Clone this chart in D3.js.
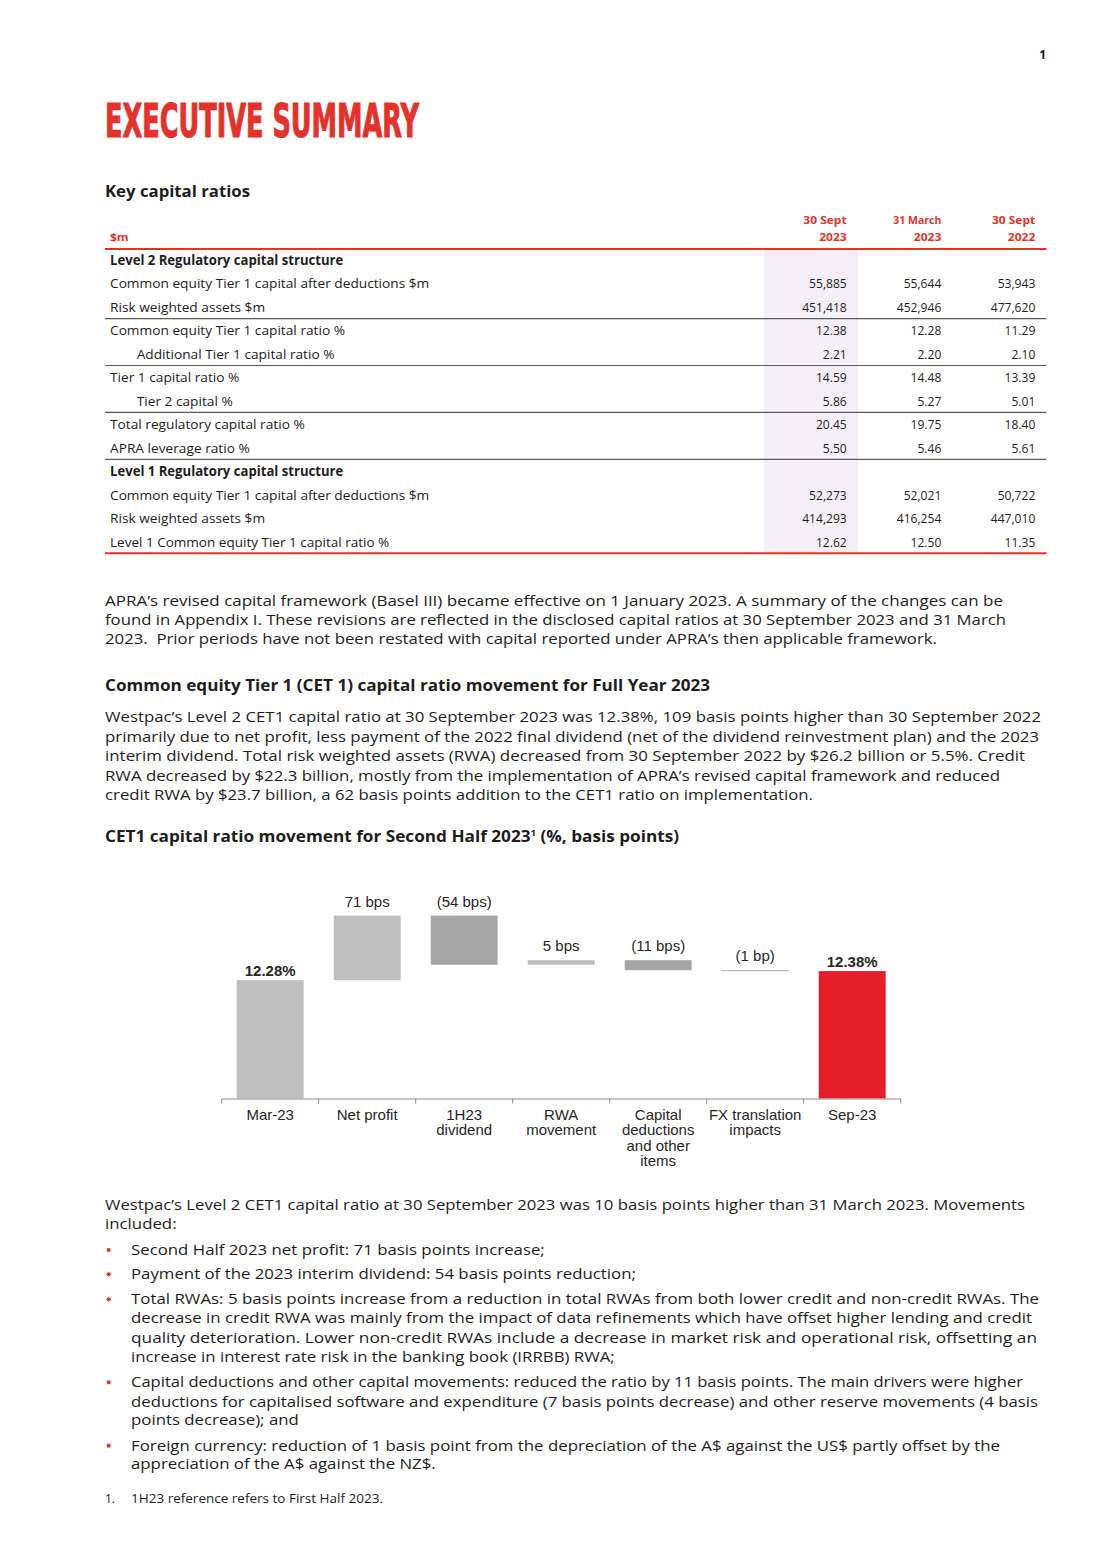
<!DOCTYPE html>
<html><head><meta charset="utf-8">
<script src="https://cdn.jsdelivr.net/npm/d3@7"></script>
<style>html,body{margin:0;padding:0;background:#fff}svg{display:block}</style>
</head><body>
<svg id="page" width="1099" height="1555"></svg>
<script>
// ---------------- DATA ----------------
const categories = ["Mar-23","Net profit","1H23 dividend","RWA movement","Capital deductions and other items","FX translation impacts","Sep-23"];
const categoryLines = [["Mar-23"],["Net profit"],["1H23","dividend"],["RWA","movement"],["Capital","deductions","and other","items"],["FX translation","impacts"],["Sep-23"]];
const movementValues = [12.28, 0.71, -0.54, 0.05, -0.11, -0.01, 12.38];
const barKinds = ["total","delta","delta","delta","delta","delta","total"];
const valueLabels = ["12.28%","71 bps","(54 bps)","5 bps","(11 bps)","(1 bp)","12.38%"];

const tableColumnsTop = ["30 Sept","31 March","30 Sept"];
const tableColumnsBottom = ["2023","2023","2022"];
const tableRowLabels = [
  "Level 2 Regulatory capital structure",
  "Common equity Tier 1 capital after deductions $m",
  "Risk weighted assets $m",
  "Common equity Tier 1 capital ratio %",
  "Additional Tier 1 capital ratio %",
  "Tier 1 capital ratio %",
  "Tier 2 capital %",
  "Total regulatory capital ratio %",
  "APRA leverage ratio %",
  "Level 1 Regulatory capital structure",
  "Common equity Tier 1 capital after deductions $m",
  "Risk weighted assets $m",
  "Level 1 Common equity Tier 1 capital ratio %"
];
const tableSep2023 = [null,"55,885","451,418","12.38","2.21","14.59","5.86","20.45","5.50",null,"52,273","414,293","12.62"];
const tableMar2023 = [null,"55,644","452,946","12.28","2.20","14.48","5.27","19.75","5.46",null,"52,021","416,254","12.50"];
const tableSep2022 = [null,"53,943","477,620","11.29","2.10","13.39","5.01","18.40","5.61",null,"50,722","447,010","11.35"];
const sectionRows = [0, 9];
const indentRows = [4, 6];
const ruleAfterRows = [2, 4, 6, 8];

// ---------------- SETUP ----------------
const svg = d3.select("#page");
svg.append("rect").attr("width",1099).attr("height",1555).attr("fill","#fff");
const BODY = "'Open Sans','Noto Sans',sans-serif";
const ARIAL = "'Liberation Sans',Arial,sans-serif";
const RED = "#e4322b";
const INK = "#1d1d1b";

function addText(parent, x, y, str, o = {}) {
  const t = parent.append("text").attr("x", x).attr("y", y)
    .attr("font-family", o.family || BODY)
    .attr("font-size", o.size || 15)
    .attr("font-weight", o.weight || 400)
    .attr("fill", o.fill || INK)
    .style("white-space", "pre")
    .text(str);
  if (o.anchor) t.attr("text-anchor", o.anchor);
  return t;
}
function fit(items) {
  const ratios = items.filter(d => d.target).map(d => d.target / d.node.getComputedTextLength());
  const r = d3.median(ratios) || 1;
  items.forEach(d => {
    const w = d.target || d.node.getComputedTextLength() * r;
    d3.select(d.node).attr("textLength", w).attr("lengthAdjust", "spacingAndGlyphs");
  });
}

// ---------------- HEADER ----------------
addText(svg, 1046, 59.3, "1", {size: 12, weight: 700, anchor: "end"});
const title = addText(svg, 105, 137.3, "EXECUTIVE SUMMARY", {family: "'Liberation Sans Narrow','DejaVu Sans Condensed',sans-serif", size: 46, weight: 700, fill: RED})
  .attr("stroke", RED).attr("stroke-width", 1.1);
fit([{node: title.node(), target: 314}]);

const kcr = addText(svg, 105, 196.7, "Key capital ratios", {size: 16, weight: 700});
fit([{node: kcr.node(), target: 145}]);

// ---------------- TABLE ----------------
const table = svg.append("g");
const colRight = [846.7, 941.3, 1035.3];
const rowBase = i => 265 + i * 23.47;
table.append("rect").attr("x", 764).attr("y", 250).attr("width", 94).attr("height", 302).attr("fill", "#f4eff6");
const hdrItems = [];
tableColumnsTop.forEach((s, i) => {
  hdrItems.push({node: addText(table, colRight[i], 224, s, {size: 11, weight: 700, fill: RED, anchor: "end"}).node(), target: i === 1 ? 48 : 43.4});
  hdrItems.push({node: addText(table, colRight[i], 240.5, tableColumnsBottom[i], {size: 11, weight: 700, fill: RED, anchor: "end"}).node(), target: null});
});
hdrItems.push({node: addText(table, 110, 240.5, "$m", {size: 11, weight: 700, fill: RED}).node(), target: null});
fit(hdrItems);
table.append("line").attr("x1", 105).attr("x2", 1046.5).attr("y1", 249).attr("y2", 249).attr("stroke", RED).attr("stroke-width", 2);

const labelItems = [], boldItems = [], valItems = [];
tableRowLabels.forEach((lab, i) => {
  const sec = sectionRows.includes(i);
  const x = indentRows.includes(i) ? 136.7 : 110;
  const t = addText(table, x, rowBase(i), lab, {size: 13.5, weight: sec ? 700 : 400});
  if (sec) boldItems.push({node: t.node(), target: i === 0 ? 233.3 : null});
  else labelItems.push({node: t.node(), target: i === 1 || i === 10 ? 319.3 : (i === 12 ? 279.3 : null)});
  [tableSep2023, tableMar2023, tableSep2022].forEach((col, c) => {
    if (col[i] == null) return;
    const v = addText(table, colRight[c], rowBase(i), col[i], {size: 13.5, anchor: "end"});
    valItems.push({node: v.node(), target: (i === 2 && c === 0) ? 44.5 : null});
  });
});
fit(labelItems); fit(boldItems); fit(valItems);
ruleAfterRows.forEach(i => {
  const yy = rowBase(i) + 6.6;
  table.append("line").attr("x1", 105).attr("x2", 1046.5).attr("y1", yy).attr("y2", yy).attr("stroke", "#5a5a5a").attr("stroke-width", 1.2);
});
table.append("line").attr("x1", 105).attr("x2", 1046.5).attr("y1", 553.3).attr("y2", 553.3).attr("stroke", RED).attr("stroke-width", 2);

// ---------------- BODY TEXT ----------------
const bodyLines = [
  [105, 605.7, "APRA’s revised capital framework (Basel III) became effective on 1 January 2023. A summary of the changes can be", 1003],
  [105, 625.0, "found in Appendix I. These revisions are reflected in the disclosed capital ratios at 30 September 2023 and 31 March", 1006],
  [105, 644.3, "2023.  Prior periods have not been restated with capital reported under APRA’s then applicable framework.", 937],
  [105, 722.3, "Westpac’s Level 2 CET1 capital ratio at 30 September 2023 was 12.38%, 109 basis points higher than 30 September 2022", 1041],
  [105, 741.7, "primarily due to net profit, less payment of the 2022 final dividend (net of the dividend reinvestment plan) and the 2023", 1039],
  [105, 761.0, "interim dividend. Total risk weighted assets (RWA) decreased from 30 September 2022 by $26.2 billion or 5.5%. Credit", 1025],
  [105, 780.7, "RWA decreased by $22.3 billion, mostly from the implementation of APRA’s revised capital framework and reduced", 1000],
  [105, 800.0, "credit RWA by $23.7 billion, a 62 basis points addition to the CET1 ratio on implementation.", 813],
  [105, 1210.0, "Westpac’s Level 2 CET1 capital ratio at 30 September 2023 was 10 basis points higher than 31 March 2023. Movements", 1025],
  [105, 1229.3, "included:", null],
  [131, 1255.0, "Second Half 2023 net profit: 71 basis points increase;", null],
  [131, 1279.3, "Payment of the 2023 interim dividend: 54 basis points reduction;", null],
  [131, 1304.3, "Total RWAs: 5 basis points increase from a reduction in total RWAs from both lower credit and non-credit RWAs. The", 1039],
  [131, 1323.3, "decrease in credit RWA was mainly from the impact of data refinements which have offset higher lending and credit", 1032],
  [131, 1342.7, "quality deterioration. Lower non-credit RWAs include a decrease in market risk and operational risk, offsetting an", 1037],
  [131, 1362.0, "increase in interest rate risk in the banking book (IRRBB) RWA;", null],
  [131, 1387.3, "Capital deductions and other capital movements: reduced the ratio by 11 basis points. The main drivers were higher", 1023],
  [131, 1406.7, "deductions for capitalised software and expenditure (7 basis points decrease) and other reserve movements (4 basis", 1038],
  [131, 1425.3, "points decrease); and", null],
  [131, 1450.7, "Foreign currency: reduction of 1 basis point from the depreciation of the A$ against the US$ partly offset by the", 1000],
  [131, 1469.3, "appreciation of the A$ against the NZ$.", null]
];
const bulletBaselines = [1255.0, 1279.3, 1304.3, 1387.3, 1450.7];
const bodyItems = bodyLines.map(([x, y, s, end]) => ({node: addText(svg, x, y, s, {size: 15}).node(), target: end ? end - x : null}));
fit(bodyItems);
bulletBaselines.forEach(y => svg.append("circle").attr("cx", 108.7).attr("cy", y - 5).attr("r", 2.1).attr("fill", RED));

const h1 = addText(svg, 105, 691.3, "Common equity Tier 1 (CET 1) capital ratio movement for Full Year 2023", {size: 16, weight: 700});
fit([{node: h1.node(), target: 605}]);
const h2 = svg.append("text").attr("x", 105).attr("y", 841.5).attr("font-family", BODY).attr("font-size", 16).attr("font-weight", 700).attr("fill", INK);
h2.append("tspan").text("CET1 capital ratio movement for Second Half 2023");
h2.append("tspan").attr("dy", -6).attr("font-size", 9).text("1");
h2.append("tspan").attr("dy", 6).text(" (%, basis points)");
fit([{node: h2.node(), target: 574}]);

addText(svg, 105, 1503.3, "1.", {size: 12});
const fn = addText(svg, 131, 1503.3, "1H23 reference refers to First Half 2023.", {size: 12});
fit([{node: fn.node(), target: 252}]);

// ---------------- WATERFALL CHART ----------------
const chart = svg.append("g");
const x = d3.scaleBand().domain(categories).range([221.7, 900.7]).paddingInner(0.31).paddingOuter(0.155);
const y = d3.scaleLinear().domain([10.98, 13.0]).range([1098.5, 1098.5 - 2.02 * 91]);
const base = y.domain()[0];
let run = 0;
const bars = categories.map((c, i) => {
  const v = movementValues[i];
  let lo, hi;
  if (barKinds[i] === "total") { lo = base; hi = v; run = v; }
  else { const s = run; run = Math.round((run + v) * 10000) / 10000; lo = Math.min(s, run); hi = Math.max(s, run); }
  return {c, v, lo, hi, kind: barKinds[i], label: valueLabels[i], i};
});
const lastIdx = categories.length - 1;
const barColor = d => d.kind === "total" ? (d.i === lastIdx ? "#e31e26" : "#bfbfbf") : (d.v >= 0 ? "#bfbfbf" : "#a5a5a5");

chart.selectAll("rect.bar").data(bars).join("rect").attr("class", "bar")
  .attr("x", d => x(d.c)).attr("width", x.bandwidth())
  .attr("y", d => y(d.hi)).attr("height", d => Math.max(1, y(d.lo) - y(d.hi)))
  .attr("fill", barColor);

chart.selectAll("text.vlab").data(bars).join("text").attr("class", "vlab")
  .attr("x", d => x(d.c) + x.bandwidth() / 2)
  .attr("y", d => y(d.hi) - (d.kind === "total" ? 4.5 : 9))
  .attr("text-anchor", "middle").attr("font-family", ARIAL).attr("font-size", 15)
  .attr("font-weight", d => d.kind === "total" ? 700 : 400).attr("fill", "#262626")
  .text(d => d.label);

// axis
const axis = chart.append("g").attr("transform", `translate(0,${y.range()[0]})`)
  .call(d3.axisBottom(x).tickSize(0).tickSizeOuter(0).tickFormat(""));
axis.select(".domain").attr("stroke", "#8c8c8c").attr("stroke-width", 1);
const boundaries = categories.map(c => x(c) - x.step() * x.paddingInner() / 2).concat([x.range()[1]]);
chart.selectAll("line.btick").data(boundaries).join("line").attr("class", "btick")
  .attr("x1", d => d).attr("x2", d => d).attr("y1", y.range()[0]).attr("y2", y.range()[0] + 5)
  .attr("stroke", "#8c8c8c").attr("stroke-width", 1);
categories.forEach((c, i) => {
  const t = chart.append("text").attr("text-anchor", "middle").attr("font-family", ARIAL)
    .attr("font-size", 15).attr("fill", "#262626");
  categoryLines[i].forEach((ln, j) => {
    t.append("tspan").attr("x", x(c) + x.bandwidth() / 2).attr("y", 1119.5 + j * 15.5).text(ln);
  });
});
</script>
</body></html>
